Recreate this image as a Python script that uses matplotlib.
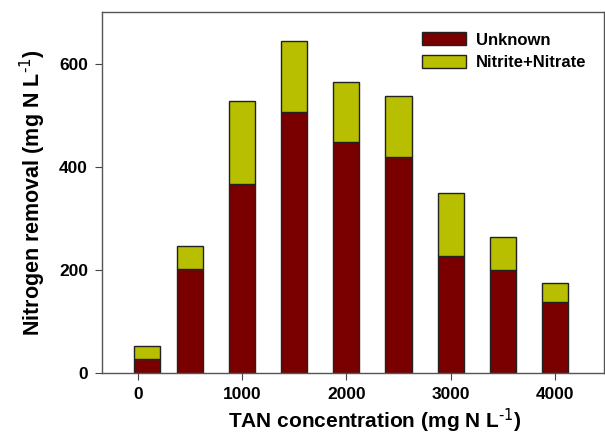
import numpy as np
import matplotlib
matplotlib.use("Agg")
import matplotlib.pyplot as plt

# TAN concentration (mg N/L) and nitrogen removal split (mg N/L)
tan_conc = [85, 500, 1000, 1500, 2000, 2500, 3000, 3500, 4000]
unknown = [27, 201, 366, 506, 447, 419, 226, 200, 138]
nitrite_nitrate = [26, 46, 162, 138, 117, 119, 123, 64, 36]
xticks = [0, 1000, 2000, 3000, 4000]
yticks = [0, 200, 400, 600]

plt.rcParams['font.family'] = ['Liberation Sans', 'DejaVu Sans']
plt.rcParams['mathtext.default'] = 'regular'

fig = plt.figure(figsize=(6.05, 4.37), dpi=100)
ax = fig.add_axes([0.1686, 0.1465, 0.8294, 0.826])

ax.bar(tan_conc, unknown, width=250, color='#7a0000', edgecolor='#222222',
       linewidth=1, label='Unknown')
ax.bar(tan_conc, nitrite_nitrate, width=250, bottom=unknown, color='#b8be00',
       edgecolor='#222222', linewidth=1, label='Nitrite+Nitrate')

ax.set_xlim(-345, 4470)
ax.set_ylim(0, 700)
ax.set_xticks(xticks)
ax.set_yticks(yticks)
for lab in ax.get_xticklabels() + ax.get_yticklabels():
    lab.set_fontweight('bold')
    lab.set_fontsize(12.5)
ax.tick_params(direction='out', length=5, color='#444444', pad=5)
for sp in ax.spines.values():
    sp.set_color('#555555')
    sp.set_linewidth(1)

ax.set_xlabel('TAN concentration (mg N L$^{\\text{-1}}$)', fontsize=15,
              fontweight='bold')
ax.xaxis.set_label_coords(0.543, -0.092, transform=ax.transAxes)
ax.xaxis.label.set_va('top')
ax.set_ylabel('Nitrogen removal (mg N L$^{\\text{-1}}$)', fontsize=15.5,
              fontweight='bold', labelpad=8)

leg = ax.legend(loc='upper right', frameon=False,
                prop={'weight': 'bold', 'size': 12},
                handlelength=2.6, handleheight=0.8, handletextpad=0.6,
                labelspacing=0.45, bbox_to_anchor=(0.995, 0.985))

fig.savefig('out.png', dpi=100)
